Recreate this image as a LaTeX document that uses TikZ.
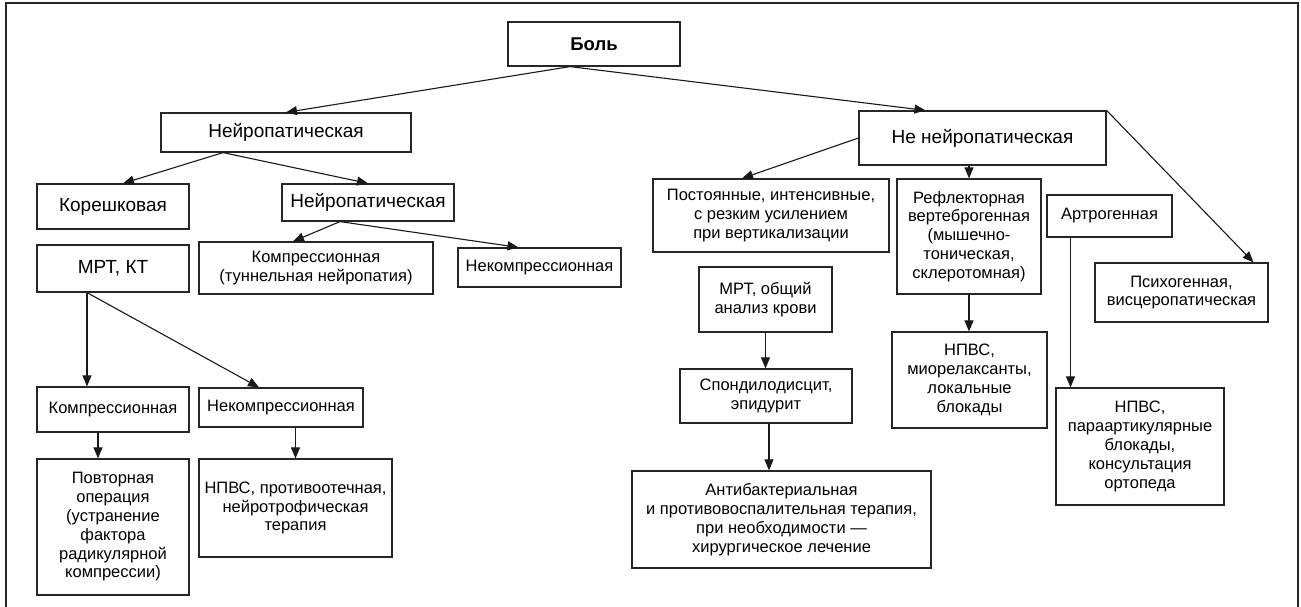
\documentclass[tikz,border=0pt]{standalone}
\usepackage{fontspec}
\setmainfont{Liberation Sans}
\usetikzlibrary{arrows.meta}

\begin{document}
\begin{tikzpicture}[x=1pt, y=-1pt,
    box/.style={draw=black!85, line width=1.2pt, align=center, inner sep=2pt,
        font=\fontsize{16.5}{18.8}\selectfont},
    bigbox/.style={box, font=\fontsize{19}{22}\selectfont},
    boldbox/.style={box, font=\fontsize{18.5}{22}\selectfont\bfseries},
    arr/.style={draw=black!90, line width=1.1pt, -{Triangle[length=11pt, width=9pt]}}]
    \useasboundingbox (0,0) rectangle (1301,607);

    % РАМКА
    \draw[line width=1.4pt, black!85] (6,615) -- (6,3) -- (1298,3) -- (1298,615);

    % ВЕРХНИЙ УРОВЕНЬ
    \node[boldbox, minimum width=172pt, minimum height=44pt] (bol) at (594,44) {Боль};
    \node[bigbox, minimum width=250pt, minimum height=39pt] (neuro) at (286,132.5) {Нейропатическая};
    \node[bigbox, minimum width=247pt, minimum height=54pt] (neneuro) at (982.5,138) {Не нейропатическая};

    % ЛЕВАЯ ВЕТВЬ
    \node[bigbox, minimum width=152pt, minimum height=45pt] (koresh) at (113,206.5) {Корешковая};
    \node[bigbox, minimum width=172pt, minimum height=37pt] (neuro2) at (368,202.5) {Нейропатическая};
    \node[box, minimum width=234pt, minimum height=52pt] (kompr1) at (316,268) {Компрессионная\\(туннельная нейропатия)};
    \node[box, minimum width=163pt, minimum height=39pt] (nekompr1) at (539.5,267.5) {Некомпрессионная};
    \node[bigbox, minimum width=152pt, minimum height=47pt] (mrt) at (113,268.5) {МРТ, КТ};
    \node[box, minimum width=152pt, minimum height=45pt] (kompr2) at (113,409.5) {Компрессионная};
    \node[box, minimum width=164pt, minimum height=39pt] (nekompr2) at (281,407.5) {Некомпрессионная};
    \node[box, minimum width=152pt, minimum height=136pt] (povt) at (113,527)
        {Повторная\\операция\\(устранение\\фактора\\радикулярной\\компрессии)};
    \node[box, minimum width=193pt, minimum height=98pt] (npvs1) at (295.5,508)
        {НПВС, противоотечная,\\нейротрофическая\\терапия};

    % ПРАВАЯ ВЕТВЬ
    \node[box, minimum width=236pt, minimum height=73pt] (post) at (771,215.5)
        {Постоянные, интенсивные,\\с резким усилением\\при вертикализации};
    \node[box, minimum width=144pt, minimum height=115pt] (refl) at (969,236.5)
        {Рефлекторная\\вертеброгенная\\(мышечно-\\тоническая,\\склеротомная)};
    \node[box, minimum width=125pt, minimum height=42pt] (artro) at (1109.5,216) {Артрогенная};
    \node[box, minimum width=173pt, minimum height=59pt] (psych) at (1181.5,292.5) {Психогенная,\\висцеропатическая};
    \node[box, minimum width=133pt, minimum height=65pt] (mrt2) at (765.5,299.5) {МРТ, общий\\анализ крови};
    \node[box, minimum width=172pt, minimum height=54pt] (spond) at (766,396) {Спондилодисцит,\\эпидурит};
    \node[box, minimum width=299pt, minimum height=97pt] (antib) at (781.5,519.5)
        {Антибактериальная\\и противовоспалительная терапия,\\при необходимости —\\хирургическое лечение};
    \node[box, minimum width=155pt, minimum height=96pt] (npvs2) at (969.5,380)
        {НПВС,\\миорелаксанты,\\локальные\\блокады};
    \node[box, minimum width=168pt, minimum height=117pt] (npvs3) at (1140,446.5)
        {НПВС,\\параартикулярные\\блокады,\\консультация\\ортопеда};

    % СТРЕЛКИ
    \coordinate (bolout) at ([xshift=-24pt]bol.south);
    \draw[arr] (bolout) -- (neuro.north);
    \draw[arr] (bolout) -- ([xshift=-57pt]neneuro.north);

    \coordinate (neuroout) at ([xshift=-63pt]neuro.south);
    \draw[arr] (neuroout) -- ([xshift=10pt]koresh.north);
    \draw[arr] (neuroout) -- (neuro2.north);

    \coordinate (neuro2out) at ([xshift=-28pt]neuro2.south);
    \draw[arr] (neuro2out) -- ([xshift=-23pt]kompr1.north);
    \draw[arr] (neuro2out) -- ([xshift=-21pt]nekompr1.north);

    \coordinate (mrtout) at ([xshift=-26pt]mrt.south);
    \draw[arr] (mrtout) -- (mrtout |- kompr2.north);
    \draw[arr] (mrtout) -- ([xshift=-22pt]nekompr2.north);
    \coordinate (komprout) at ([xshift=-15pt]kompr2.south);
    \draw[arr] (komprout) -- (komprout |- povt.north);
    \draw[arr] (npvs1.north |- nekompr2.south) -- (npvs1.north);

    \draw[arr] (neneuro.west) -- ([xshift=-29pt]post.north);
    \draw[arr] (refl.north |- neneuro.south) -- (refl.north);
    \draw[arr] (neneuro.north east) -- ([xshift=72pt]psych.north);

    \draw[arr] (mrt2.south) -- (mrt2.south |- spond.north);
    \coordinate (spondout) at ([xshift=3pt]spond.south);
    \draw[arr] (spondout) -- (spondout |- antib.north);
    \draw[arr] (refl.south) -- (refl.south |- npvs2.north);
    \coordinate (artroout) at ([xshift=-39pt]artro.south);
    \draw[arr] (artroout) -- (artroout |- npvs3.north);

\end{tikzpicture}
\end{document}
